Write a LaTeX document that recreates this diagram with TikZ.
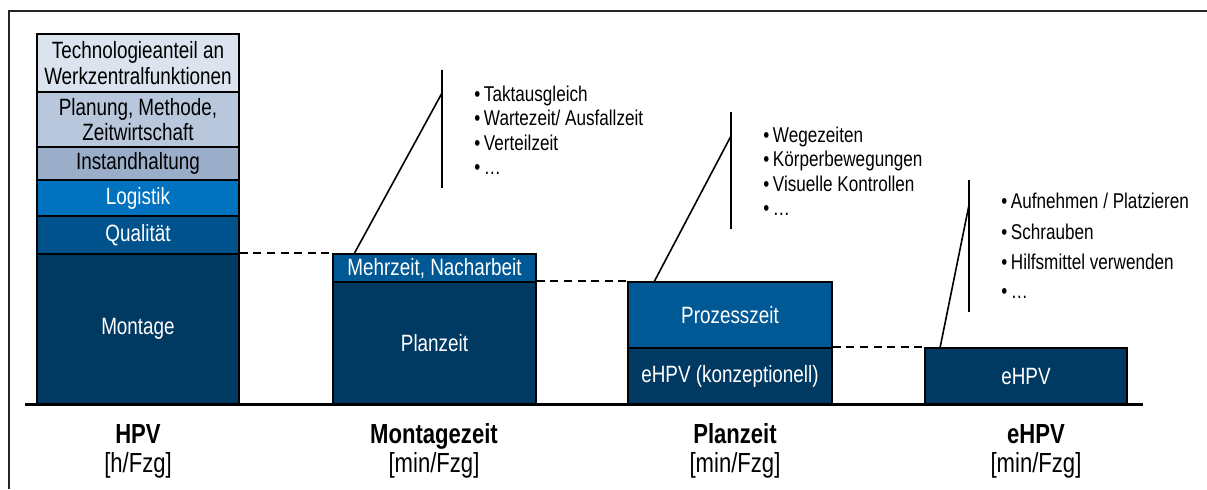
\documentclass[tikz,border=0pt]{standalone}
\usepackage{fontspec}
\setmainfont{Liberation Sans}[FakeStretch=0.8]
\begin{document}
\begin{tikzpicture}[x=0.5pt,y=-0.5pt,
  box/.style={draw=black, line width=0.8pt, inner sep=0pt, align=center, text=white,
    font=\fontsize{11.8}{12.8}\selectfont},
  lightbox/.style={box, text=black},
  bul/.style={anchor=base west, inner sep=0pt, font=\fontsize{10.7}{12}\selectfont},
  title/.style={inner sep=0pt, anchor=base, font=\fontsize{13.8}{15}\selectfont\bfseries},
  unit/.style={inner sep=0pt, anchor=base, font=\fontsize{13.8}{15}\selectfont},
  dashline/.style={dash pattern=on 4pt off 2.8pt, line width=1.2pt},
  callout/.style={line width=0.8pt}
]
\definecolor{cTech}{RGB}{219,227,238}
\definecolor{cPlan}{RGB}{184,199,220}
\definecolor{cInst}{RGB}{154,173,201}
\definecolor{cLog}{RGB}{0,114,192}
\definecolor{cQual}{RGB}{0,82,140}
\definecolor{cDark}{RGB}{0,57,98}
\definecolor{cMid}{RGB}{0,88,148}
\useasboundingbox (0,0) rectangle (1207,489);
% frame
\draw[line width=1pt, draw=black!85] (9,489) -- (9,11) -- (1207,11);
% HPV stack
\node[lightbox, fill=cTech, minimum width=101pt, minimum height=29pt] (tech) at (138,63) {Technologieanteil an\\Werkzentralfunktionen};
\node[lightbox, fill=cPlan, minimum width=101pt, minimum height=27.5pt] (plan) at (138,119.5) {Planung, Methode,\\Zeitwirtschaft};
\node[lightbox, fill=cInst, minimum width=101pt, minimum height=16.5pt] (inst) at (138,163.5) {Instandhaltung};
\node[box, fill=cLog, minimum width=101pt, minimum height=18pt] (log) at (138,198) {Logistik};
\node[box, fill=cQual, minimum width=101pt, minimum height=19pt] (qual) at (138,235) {Qualität};
\node[box, fill=cDark, minimum width=101pt, minimum height=75pt] (mont) at (138,329) {Montage};
% Montagezeit
\node[box, fill=cMid, minimum width=101.5pt, minimum height=14pt] (mehr) at (434.5,268) {Mehrzeit, Nacharbeit};
\node[box, fill=cDark, minimum width=101.5pt, minimum height=61pt] (planz) at (434.5,343) {Planzeit};
% Planzeit
\node[box, fill=cMid, minimum width=102pt, minimum height=33pt] (proz) at (730,315) {Prozesszeit};
\node[box, fill=cDark, minimum width=102pt, minimum height=28pt] (ehpvk) at (730,376) {eHPV (konzeptionell)};
% eHPV
\node[box, fill=cDark, minimum width=101pt, minimum height=28pt] (ehpv) at (1026,376) {eHPV};
% baseline
\coordinate (bl) at (25,404);
\coordinate (br) at (1143,404);
\draw[line width=1.5pt] (bl) -- (br);
% dashed level lines
\draw[dashline] (mont.north east) -- (mehr.north west);
\draw[dashline] (planz.north east) -- (proz.north west);
\draw[dashline] (ehpvk.north east) -- (ehpv.north west);
% callouts
\coordinate (c1t) at (442,70); \coordinate (c1b) at (442,188); \coordinate (c1j) at (442,93);
\coordinate (c1s) at (354,254);
\draw[callout] (c1t) -- (c1b);
\draw[callout] (c1s) -- (c1j);
\coordinate (c2t) at (731,112); \coordinate (c2b) at (731,229); \coordinate (c2j) at (731,136);
\coordinate (c2s) at (654,282);
\draw[callout] (c2t) -- (c2b);
\draw[callout] (c2s) -- (c2j);
\coordinate (c3t) at (969,180); \coordinate (c3b) at (969,312); \coordinate (c3j) at (969,205);
\coordinate (c3s) at (940,348);
\draw[callout] (c3t) -- (c3b);
\draw[callout] (c3s) -- (c3j);
% bullet lists
\node[bul] (a1) at (474,101) {\textbullet\,Taktausgleich};
\node[bul] (a2) at (474,125) {\textbullet\,Wartezeit/ Ausfallzeit};
\node[bul] (a3) at (474,150) {\textbullet\,Verteilzeit};
\node[bul] (a4) at (474,174) {\textbullet\,\dots};
\node[bul] (b1) at (763,142) {\textbullet\,Wegezeiten};
\node[bul] (b2) at (763,166) {\textbullet\,Körperbewegungen};
\node[bul] (b3) at (763,191) {\textbullet\,Visuelle Kontrollen};
\node[bul] (b4) at (763,215) {\textbullet\,\dots};
\node[bul] (d1) at (1001,208) {\textbullet\,Aufnehmen / Platzieren};
\node[bul] (d2) at (1001,239) {\textbullet\,Schrauben};
\node[bul] (d3) at (1001,269) {\textbullet\,Hilfsmittel verwenden};
\node[bul] (d4) at (1001,298) {\textbullet\,\dots};
% axis labels
\node[title] (t1) at (138,443) {HPV};
\node[unit] (u1) at (138,472) {[h/Fzg]};
\node[title] (t2) at (434,443) {Montagezeit};
\node[unit] (u2) at (434,472) {[min/Fzg]};
\node[title] (t3) at (735,443) {Planzeit};
\node[unit] (u3) at (735,472) {[min/Fzg]};
\node[title] (t4) at (1036,443) {eHPV};
\node[unit] (u4) at (1036,472) {[min/Fzg]};
\end{tikzpicture}
\end{document}
